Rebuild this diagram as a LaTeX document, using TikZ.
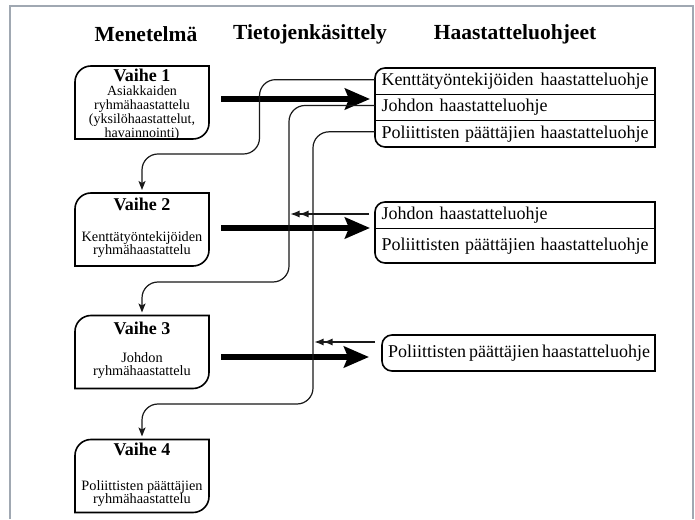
\documentclass[tikz,border=0pt]{standalone}
\usepackage{fontspec}
\setmainfont{Liberation Serif}
\usetikzlibrary{arrows.meta}
\definecolor{framegray}{RGB}{160,168,178}
\lineskiplimit=-30pt
\begin{document}
\begin{tikzpicture}[x=1pt,y=1pt,
  boxline/.style={draw=black, line width=1.6pt},
  divline/.style={draw=black, line width=1pt},
  conn/.style={draw=black!90, line width=1.2pt, rounded corners=16pt},
  connarrow/.style={-{Stealth[length=9pt,width=7pt,inset=2pt]}},
  bigarrow/.style={line width=6.5pt, -{Stealth[length=25pt,width=21pt,inset=4pt]}},
  dblarrow/.style={draw=black!90, line width=1.1pt, -{Latex[length=9pt,width=7pt]Latex[length=9pt,width=7pt]}},
  stagebox/.style={minimum width=134pt, minimum height=73pt, inner sep=0pt, outer sep=0pt},
  rowbox/.style={minimum width=280pt, inner sep=0pt, outer sep=0pt, font=\fontsize{18}{20}\selectfont},
  heading/.style={font=\bfseries\fontsize{21.5}{24}\selectfont, inner sep=0pt},
  stagetitle/.style={font=\bfseries\fontsize{18}{20}\selectfont, inner sep=0pt},
  stagetext/.style={font=\fontsize{14.3}{13}\selectfont, align=center, inner sep=0pt},
]
\useasboundingbox (0,0) rectangle (695,519);
% frame
\draw[framegray, line width=1.5pt] (10,0) -- (10,513) -- (693,513) -- (693,0);

% headings
\node[heading] (h1) at (146,485) {Menetelmä};
\node[heading] (h2) at (310,485) {Tietojenkäsittely};
\node[heading] (h3) at (515,485) {Haastatteluohjeet};

% stage boxes
\node[stagebox] (v1) at (142,416.5) {};
\node[stagebox] (v2) at (142,289.5) {};
\node[stagebox] (v3) at (142,167) {};
\node[stagebox] (v4) at (142,43) {};
\foreach \n in {v1,v2,v3,v4}
  \draw[boxline] (\n.north east) -- ([yshift=16pt]\n.south east)
    arc[start angle=0,end angle=-90,radius=16pt] -- (\n.south west)
    -- ([yshift=-16pt]\n.north west) arc[start angle=180,end angle=90,radius=16pt] -- cycle;

\node[stagetitle] (v1t) at ([yshift=-9pt]v1.north) {Vaihe 1};
\node[stagetitle] (v2t) at ([yshift=-11pt]v2.north) {Vaihe 2};
\node[stagetitle] (v3t) at ([yshift=-13pt]v3.north) {Vaihe 3};
\node[stagetitle] (v4t) at ([yshift=-10pt]v4.north) {Vaihe 4};

\node[stagetext, font=\fontsize{14}{14}\selectfont] (v1b) at (142,406)
  {Asiakkaiden\\ryhmähaastattelu\\(yksilöhaastattelut,\\havainnointi)};
\node[stagetext] (v2b) at ([yshift=21.5pt]v2.south) {Kenttätyöntekijöiden\\ryhmähaastattelu};
\node[stagetext] (v3b) at ([yshift=22.5pt]v3.south) {Johdon\\ryhmähaastattelu};
\node[stagetext] (v4b) at ([yshift=18.5pt]v4.south) {Poliittisten päättäjien\\ryhmähaastattelu};

% right box 1
\node[rowbox, minimum height=26.33pt] (r1a) at (515,437.83)
  {\makebox[267pt][s]{Kenttätyöntekijöiden haastatteluohje}};
\node[rowbox, minimum height=26.33pt, anchor=north] (r1b) at (r1a.south)
  {\makebox[267pt][l]{\makebox[166pt][s]{Johdon haastatteluohje}}};
\node[rowbox, minimum height=26.33pt, anchor=north] (r1c) at (r1b.south)
  {\makebox[267pt][s]{Poliittisten päättäjien haastatteluohje}};
\draw[boxline] (r1a.north east) -- (r1c.south east) -- ([xshift=10pt]r1c.south west)
  arc[start angle=270,end angle=180,radius=10pt] -- ([yshift=-10pt]r1a.north west)
  arc[start angle=180,end angle=90,radius=10pt] -- cycle;
\draw[divline] (r1a.south west) -- (r1a.south east);
\draw[divline] (r1b.south west) -- (r1b.south east);

% right box 2
\node[rowbox, minimum height=27pt] (r2a) at (515,303.5)
  {\makebox[267pt][l]{\makebox[166pt][s]{Johdon haastatteluohje}}};
\node[rowbox, minimum height=34pt, anchor=north] (r2b) at (r2a.south)
  {\makebox[267pt][s]{Poliittisten päättäjien haastatteluohje}};
\draw[boxline] (r2a.north east) -- (r2b.south east) -- ([xshift=10pt]r2b.south west)
  arc[start angle=270,end angle=180,radius=10pt] -- ([yshift=-10pt]r2a.north west)
  arc[start angle=180,end angle=90,radius=10pt] -- cycle;
\draw[divline] (r2a.south west) -- (r2a.south east);

% right box 3
\node[rowbox, minimum width=273pt, minimum height=36pt] (r3) at (518.5,166)
  {\makebox[261pt][s]{Poliittisten päättäjien haastatteluohje}};
\draw[boxline] (r3.north east) -- (r3.south east) -- ([xshift=10pt]r3.south west)
  arc[start angle=270,end angle=180,radius=10pt] -- ([yshift=-10pt]r3.north west)
  arc[start angle=180,end angle=90,radius=10pt] -- cycle;

% thick arrows
\coordinate (t1) at ([xshift=12pt,yshift=3.5pt]v1.east);
\coordinate (t2) at ([xshift=12pt,yshift=1.5pt]v2.east);
\coordinate (t3) at ([xshift=12pt,yshift=-5pt]v3.east);
\draw[bigarrow, shorten >=5pt] (t1) -- (t1 -| r1b.west);
\draw[bigarrow, shorten >=5pt] (t2) -- (t2 -| r2a.west);
\draw[bigarrow, shorten >=13pt] (t3) -- (t3 -| r3.west);

% thin connectors
\coordinate (k1) at (259.5,365);
\coordinate (k2) at (289,237);
\coordinate (k3) at (313,115);
\draw[conn, connarrow] ([yshift=1.5pt]r1a.west) -| (k1) -| ([yshift=3pt]v2.north);
\draw[conn, connarrow] ([yshift=2pt]r1b.west) -| (k2) -| ([yshift=3pt]v3.north);
\draw[conn, connarrow] ([yshift=2pt]r1c.west) -| (k3) -| ([yshift=3pt]v4.north);

% double-headed feedback arrows
\coordinate (d1) at ([xshift=-6pt,yshift=1.5pt]r2a.west);
\coordinate (d2) at ([xshift=-7pt,yshift=11pt]r3.west);
\draw[dblarrow, shorten >=1.5pt] (d1) -- (d1 -| k2);
\draw[dblarrow, shorten >=1.5pt] (d2) -- (d2 -| k3);
\end{tikzpicture}
\end{document}
